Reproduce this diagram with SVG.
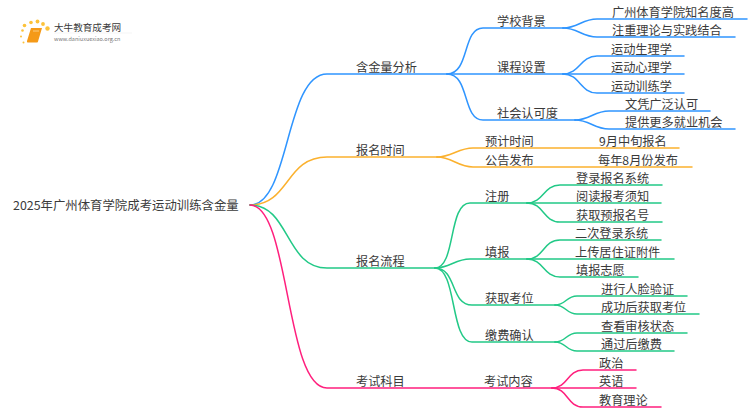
<svg xmlns="http://www.w3.org/2000/svg" width="750" height="410" viewBox="0 0 750 410">
<style>
text{font-family:"Noto Sans CJK SC","Noto Sans",sans-serif;font-size:12.2px;fill:#3a3a3a}
.c{fill:none;stroke-width:1.5;stroke-linecap:round}
.b{stroke:#2f95ff}.o{stroke:#fbb12e}.g{stroke:#22c987}.p{stroke:#ff1f7d}
</style>
<rect width="750" height="410" fill="#fff"/>
<g id="connectors">
<g>
<path class="c b" d="M250 205C290 205 285 74 327 74H447"/>
<path class="c b" d="M447 74C470 74 462 28 483 28H563"/>
<path class="c b" d="M447 74H563"/>
<path class="c b" d="M447 74C470 74 462 120 483 120H575"/>
<path class="c b" d="M563 28C578 28 582 19 597 19H747"/>
<path class="c b" d="M563 28C578 28 582 37 597 37H735"/>
<path class="c b" d="M563 74C580 74 580 56 597 56H684"/>
<path class="c b" d="M563 74H684"/>
<path class="c b" d="M563 74C580 74 580 93 597 93H684"/>
<path class="c b" d="M575 120C590 120 594 111 609 111H710"/>
<path class="c b" d="M575 120C590 120 594 129 609 129H735"/>
</g>
<g>
<path class="c o" d="M250 205C290 205 285 157 327 157H437"/>
<path class="c o" d="M437 157C452 157 458 148 473 148H679"/>
<path class="c o" d="M437 157C452 157 458 167 473 167H692"/>
</g>
<g>
<path class="c g" d="M250 205C290 205 285 268 327 268H435"/>
<path class="c g" d="M435 268C456 268 448 203 470 203H527"/>
<path class="c g" d="M435 268C450 268 455 259 470 259H527"/>
<path class="c g" d="M435 268C457 268 450 305 472 305H555"/>
<path class="c g" d="M435 268C457 268 450 342 472 342H555"/>
<path class="c g" d="M527 203C544 203 543 185 560 185H662"/>
<path class="c g" d="M527 203H661"/>
<path class="c g" d="M527 203C544 203 543 222 560 222H662"/>
<path class="c g" d="M527 259C544 259 543 240 560 240H661"/>
<path class="c g" d="M527 259H674"/>
<path class="c g" d="M527 259C544 259 543 277 560 277H638"/>
<path class="c g" d="M555 305C566 305 566 296 577 296H687"/>
<path class="c g" d="M555 305C566 305 566 314 577 314H699"/>
<path class="c g" d="M555 342C566 342 566 333 577 333H687"/>
<path class="c g" d="M555 342C566 342 566 351 577 351H674"/>
</g>
<g>
<path class="c p" d="M250 205C290 205 285 388 327 388H552"/>
<path class="c p" d="M552 388C568 388 567 370 583 370H636"/>
<path class="c p" d="M552 388H636"/>
<path class="c p" d="M552 388C568 388 567 407 583 407H661"/>
</g>
</g>
<g id="logo">
<g fill="#fcc23a">
<circle cx="24.500" cy="25.500" r="1.800"/><circle cx="31" cy="22.500" r="1.800"/><circle cx="37.500" cy="21.500" r="1.900"/><circle cx="43" cy="24" r="1.900"/><circle cx="47.500" cy="28.500" r="2.200"/><circle cx="22.500" cy="30.500" r="1.300"/><circle cx="21" cy="36.500" r="1"/><circle cx="23.500" cy="42.500" r="1"/>
</g>
<path d="M31 28H42L38 41.500Q38 42.500 37 42.500H28Q26.500 42.500 27 41Z" fill="#f59a18"/>
<path d="M33 31H39" stroke="#fde3b0" stroke-width="0.700"/>
<path d="M54 33H132" stroke="#eeeeee" stroke-width="0.600"/>
<text x="54" y="31" style="font-size:9.600px">大牛教育成考网</text>
<text x="54" y="41" style="font-size:5.500px;fill:#777">www.daniuxuexiao.org.cn</text>
</g>
<g id="root"><text x="13" y="210" style="font-size:12.400px">2025年广州体育学院成考运动训练含金量</text></g>
<g id="n1"><text x="356" y="72">含金量分析</text></g>
<g id="n1-1"><text x="497" y="26">学校背景</text></g>
<g id="n1-1-1"><text x="612" y="17">广州体育学院知名度高</text></g>
<g id="n1-1-2"><text x="612" y="35">注重理论与实践结合</text></g>
<g id="n1-2"><text x="497" y="72">课程设置</text></g>
<g id="n1-2-1"><text x="611" y="54">运动生理学</text></g>
<g id="n1-2-2"><text x="611" y="72">运动心理学</text></g>
<g id="n1-2-3"><text x="611" y="91">运动训练学</text></g>
<g id="n1-3"><text x="497" y="118">社会认可度</text></g>
<g id="n1-3-1"><text x="625" y="109">文凭广泛认可</text></g>
<g id="n1-3-2"><text x="625" y="127">提供更多就业机会</text></g>
<g id="n2"><text x="356" y="155">报名时间</text></g>
<g id="n2-1"><text x="485" y="146">预计时间</text></g>
<g id="n2-1-1"><text x="599" y="146">9月中旬报名</text></g>
<g id="n2-2"><text x="485" y="165">公告发布</text></g>
<g id="n2-2-1"><text x="598" y="165">每年8月份发布</text></g>
<g id="n3"><text x="356" y="266">报名流程</text></g>
<g id="n3-1"><text x="485" y="201">注册</text></g>
<g id="n3-1-1"><text x="576" y="183">登录报名系统</text></g>
<g id="n3-1-2"><text x="576" y="201">阅读报考须知</text></g>
<g id="n3-1-3"><text x="576" y="220">获取预报名号</text></g>
<g id="n3-2"><text x="485" y="257">填报</text></g>
<g id="n3-2-1"><text x="575" y="238">二次登录系统</text></g>
<g id="n3-2-2"><text x="575" y="257">上传居住证附件</text></g>
<g id="n3-2-3"><text x="576" y="275">填报志愿</text></g>
<g id="n3-3"><text x="485" y="303">获取考位</text></g>
<g id="n3-3-1"><text x="601" y="294">进行人脸验证</text></g>
<g id="n3-3-2"><text x="601" y="312">成功后获取考位</text></g>
<g id="n3-4"><text x="485" y="340">缴费确认</text></g>
<g id="n3-4-1"><text x="601" y="331">查看审核状态</text></g>
<g id="n3-4-2"><text x="601" y="349">通过后缴费</text></g>
<g id="n4"><text x="356" y="386">考试科目</text></g>
<g id="n4-1"><text x="484" y="386">考试内容</text></g>
<g id="n4-1-1"><text x="599" y="368">政治</text></g>
<g id="n4-1-2"><text x="599" y="386">英语</text></g>
<g id="n4-1-3"><text x="599" y="405">教育理论</text></g>
</svg>
